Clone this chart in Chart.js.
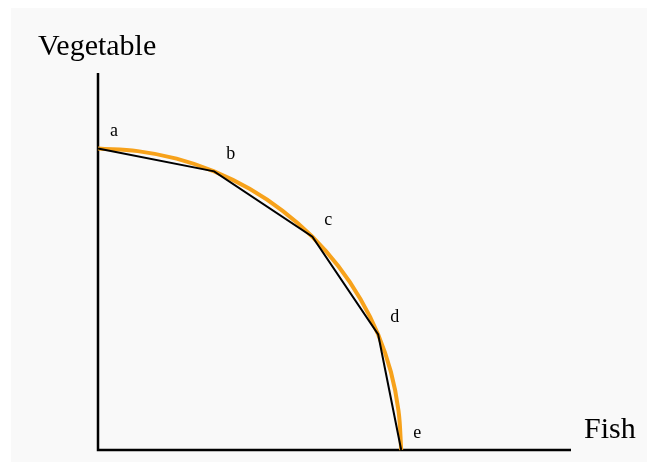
<!DOCTYPE html>
<html>
<head>
<meta charset="utf-8">
<script src="https://cdn.jsdelivr.net/npm/chart.js@4/dist/chart.umd.min.js"></script>
<style>
  html, body { margin: 0; padding: 0; background: #ffffff; }
  #wrap { position: absolute; left: 11px; top: 8px; width: 636px; height: 454px; background: #f9f9f9; }
</style>
</head>
<body>
<div id="wrap"><canvas id="myChart" width="636" height="454"></canvas></div>
<script>
// production possibilities: fish (x) vs vegetable (y)
const pointLabels = ["a", "b", "c", "d", "e"];
const fishPoints = [0, 38.3, 70.7, 92.4, 100];
const vegPoints = [100, 92.4, 70.7, 38.3, 0];

// smooth frontier
const curveFish = [0, 13.1, 25.9, 38.3, 50, 60.9, 70.7, 79.3, 86.6, 92.4, 96.6, 99.1, 100];
const curveVeg = [100, 99.1, 96.6, 92.4, 86.6, 79.3, 70.7, 60.9, 50, 38.3, 25.9, 13.1, 0];

const xTitle = "Fish";
const yTitle = "Vegetable";

const polyData = fishPoints.map((f, i) => ({ x: f, y: vegPoints[i] }));
const curveData = curveFish.map((f, i) => ({ x: f, y: curveVeg[i] }));

const serif = "'Liberation Serif', 'DejaVu Serif', serif";

const axesAndText = {
  id: "axesAndText",
  beforeDatasetsDraw(chart) {
    const ctx = chart.ctx;
    const area = chart.chartArea;
    ctx.save();
    ctx.strokeStyle = "#000";
    ctx.lineWidth = 2.5;
    ctx.beginPath();
    ctx.moveTo(area.left, area.top);
    ctx.lineTo(area.left, area.bottom);
    ctx.lineTo(area.right, area.bottom);
    ctx.stroke();
    ctx.restore();
  },
  afterDraw(chart) {
    const ctx = chart.ctx;
    const area = chart.chartArea;
    const meta = chart.getDatasetMeta(0);
    ctx.save();
    ctx.fillStyle = "#000";
    ctx.textAlign = "left";
    ctx.textBaseline = "alphabetic";
    ctx.font = "18px " + serif;
    meta.data.forEach((pt, i) => {
      ctx.fillText(pointLabels[i], pt.x + 12, pt.y - 12);
    });
    ctx.font = "30px " + serif;
    ctx.fillText(yTitle, area.left - 60, area.top - 18);
    ctx.fillText(xTitle, area.right + 13, area.bottom - 12);
    ctx.restore();
  }
};

const myChart = new Chart("myChart", {
  type: "scatter",
  data: {
    datasets: [
      {
        data: polyData,
        showLine: true,
        borderColor: "#000000",
        borderWidth: 2,
        pointRadius: 0,
        tension: 0,
        clip: false,
        order: 1
      },
      {
        data: curveData,
        showLine: true,
        borderColor: "#f7a21b",
        borderWidth: 4,
        pointRadius: 0,
        tension: 0.4,
        clip: false,
        order: 2
      }
    ]
  },
  options: {
    responsive: false,
    animation: false,
    devicePixelRatio: 1,
    layout: { padding: { left: 87, top: 65, right: 76, bottom: 12 } },
    plugins: {
      legend: { display: false },
      tooltip: { enabled: false }
    },
    scales: {
      x: { type: "linear", display: false, min: 0, max: 156 },
      y: { type: "linear", display: false, min: 0, max: 125 }
    }
  },
  plugins: [axesAndText]
});
</script>
</body>
</html>
